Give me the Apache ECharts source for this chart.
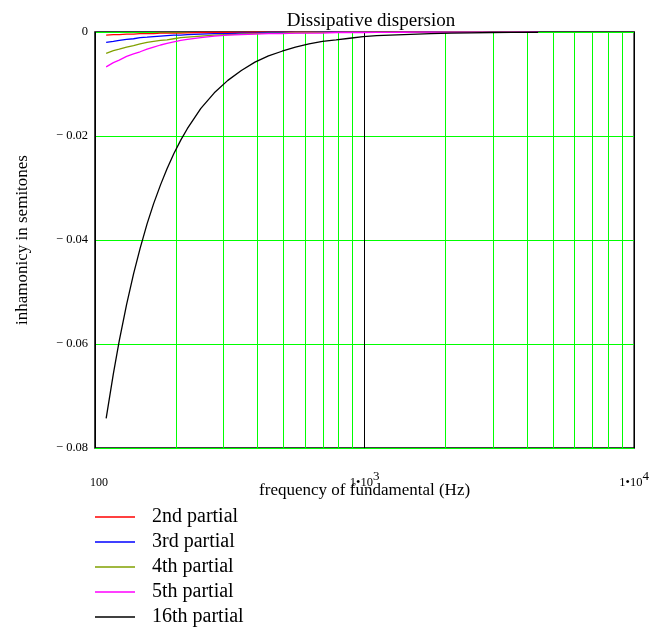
<!DOCTYPE html>
<html>
<head>
<meta charset="utf-8">
<title>Dissipative dispersion</title>
<script src="https://cdn.jsdelivr.net/npm/echarts@6/dist/echarts.min.js"></script>
<style>
  html, body { margin: 0; padding: 0; background: #fff; }
  #chart { width: 652px; height: 637px; }
</style>
</head>
<body>
<div id="chart"></div>
<script>
// fundamental frequencies (Hz) the curves are sampled at
const freqs = [110, 117, 123, 131, 139, 147, 156, 165, 175, 185, 196, 208, 220, 247, 277, 311, 349, 392,
  440, 494, 554, 622, 698, 784, 880, 988, 1109, 1245, 1397, 1568, 1760, 2093, 2489, 2960, 3520, 4400];

// inharmonicity in semitones
const partial2 = [-0.0006, -0.0005, -0.0005, -0.0004, -0.0004, -0.0003, -0.0003, -0.0003, -0.0002, -0.0002, -0.0002, -0.0002,
  -0.00015, -0.0001, -0.0001, -0.00008, -0.00006, -0.00005, -0.00004, -0.00003, -0.00002, -0.00002, -0.00001, -0.00001,
  -0.00001, -0.00001, 0, 0, 0, 0, 0, 0, 0, 0, 0, 0];
const partial3 = [-0.0020, -0.0018, -0.0016, -0.0014, -0.0013, -0.0011, -0.0010, -0.0009, -0.0008, -0.0007, -0.0006, -0.0006,
  -0.0005, -0.0004, -0.0003, -0.0003, -0.0002, -0.0002, -0.0001, -0.0001, -0.0001, -0.00006, -0.00005, -0.00004,
  -0.00003, -0.00002, -0.00002, -0.00001, -0.00001, -0.00001, 0, 0, 0, 0, 0, 0];
const partial4 = [-0.0041, -0.0036, -0.0033, -0.0029, -0.0026, -0.0023, -0.0020, -0.0018, -0.0016, -0.0015, -0.0013, -0.0011,
  -0.0010, -0.0008, -0.0006, -0.0005, -0.0004, -0.0003, -0.0002, -0.0002, -0.0001, -0.0001, -0.00008, -0.00006,
  -0.00005, -0.00004, -0.00003, -0.00002, -0.00002, -0.00001, -0.00001, 0, 0, 0, 0, 0];
const partial5 = [-0.0067, -0.0059, -0.0054, -0.0047, -0.0042, -0.0038, -0.0033, -0.0029, -0.0025, -0.0022, -0.0019, -0.0016,
  -0.0014, -0.0011, -0.0008, -0.0006, -0.0005, -0.0004, -0.0003, -0.0003, -0.0002, -0.0002, -0.0002, -0.0001,
  -0.0001, -0.0001, -0.00008, -0.00006, -0.00005, -0.00004, -0.00003, -0.00002, -0.00002, -0.00001, -0.00001, 0];
const partial16 = [-0.0743, -0.0657, -0.0594, -0.0524, -0.0465, -0.0416, -0.0369, -0.0330, -0.0294, -0.0263, -0.0234, -0.0208,
  -0.0186, -0.0147, -0.0117, -0.0093, -0.0074, -0.0058, -0.0046, -0.0037, -0.0029, -0.0023, -0.0018, -0.0015,
  -0.0012, -0.0009, -0.0007, -0.0006, -0.0005, -0.0004, -0.0003, -0.0002, -0.00015, -0.0001, -0.00007, -0.00005];

const seriesNames = ["2nd partial", "3rd partial", "4th partial", "5th partial", "16th partial"];
const seriesColors = ["#ff0000", "#0000ff", "#80a000", "#ff00ff", "#000000"];
const seriesValues = [partial2, partial3, partial4, partial5, partial16];

// green log grid lines between the decades
const minorFreqs = [200, 300, 400, 500, 600, 700, 800, 900, 2000, 3000, 4000, 5000, 6000, 7000, 8000, 9000];
const yTicks = [0, -0.02, -0.04, -0.06, -0.08];

const serif = "Liberation Serif";
const chart = echarts.init(document.getElementById("chart"));

const curveSeries = seriesNames.map((name, k) => ({
  name: name,
  type: "line",
  data: freqs.map((f, i) => [f, seriesValues[k][i]]),
  showSymbol: false,
  symbol: "none",
  clip: false,
  z: 5,
  lineStyle: { color: seriesColors[k], width: 1.3 },
  itemStyle: { color: seriesColors[k] },
}));

const option = {
  animation: false,
  backgroundColor: "#fff",
  title: {
    text: "Dissipative dispersion",
    left: 366,
    top: 7,
    textAlign: "center",
    textStyle: { fontFamily: serif, fontSize: 19, fontWeight: "normal", color: "#000" },
  },
  legend: {
    orient: "vertical",
    left: 95,
    top: 507,
    padding: 0,
    itemWidth: 40,
    itemHeight: 1.5,
    itemGap: 5,
    icon: "rect",
    selectedMode: false,
    data: seriesNames,
    textStyle: { fontFamily: serif, fontSize: 20, color: "#000", padding: [0, 0, 0, 12] },
  },
  grid: {
    left: 95,
    right: 16,
    top: 32,
    bottom: 189,
    show: true,
    borderColor: "#000",
    borderWidth: 1.5,
  },
  xAxis: {
    type: "log",
    logBase: 10,
    min: 100,
    max: 10000,
    name: "frequency of fundamental (Hz)",
    nameLocation: "middle",
    nameGap: 34,
    nameMoveOverlap: false,
    nameTextStyle: { fontFamily: serif, fontSize: 17, color: "#000" },
    axisLine: { show: false },
    axisTick: { show: false },
    splitLine: { show: true, lineStyle: { color: "#000", width: 1 } },
    axisLabel: {
      margin: 22,
      color: "#000",
      fontFamily: serif,
      formatter: function (v) {
        const r = Math.round(v);
        if (r === 100) return "{p|100}";
        return "{m|1\u202210}{s|" + Math.round(Math.log10(r)) + "}";
      },
      rich: {
        p: { fontFamily: serif, fontSize: 12, padding: [7, 0, 0, 8] },
        m: { fontFamily: serif, fontSize: 12.5 },
        s: { fontFamily: serif, fontSize: 13, padding: [0, 0, 12, 0] },
      },
    },
  },
  yAxis: {
    type: "value",
    min: -0.08,
    max: 0,
    interval: 0.02,
    name: "inhamonicy in semitones",
    nameLocation: "middle",
    nameGap: 64,
    nameTextStyle: { fontFamily: serif, fontSize: 17, color: "#000" },
    axisLine: { show: false },
    axisTick: { show: false },
    splitLine: { show: true, lineStyle: { color: "#00ff00", width: 1 } },
    axisLabel: {
      margin: 7,
      color: "#000",
      fontFamily: serif,
      fontSize: 12.5,
      customValues: yTicks,
      formatter: function (v) {
        if (Math.abs(v) < 1e-9) return "0";
        return "\u2212 " + Math.abs(v).toFixed(2);
      },
    },
  },
  series: [
    {
      name: "grid",
      type: "line",
      data: [],
      z: 1,
      markLine: {
        silent: true,
        symbol: "none",
        animation: false,
        label: { show: false },
        lineStyle: { color: "#00ff00", type: "solid", width: 1 },
        emphasis: { disabled: true },
        data: minorFreqs.map((f) => ({ xAxis: f })),
      },
    },
  ].concat(curveSeries),
};

chart.setOption(option);
</script>
</body>
</html>
